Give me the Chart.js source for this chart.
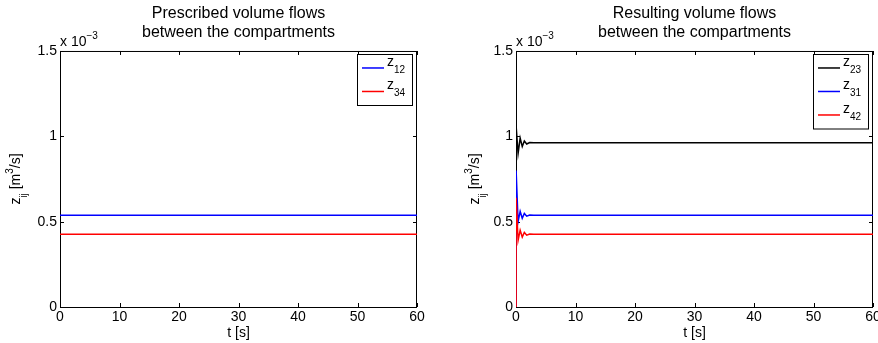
<!DOCTYPE html>
<html>
<head>
<meta charset="utf-8">
<script src="https://cdn.jsdelivr.net/npm/chart.js@4.4.0/dist/chart.umd.min.js"></script>
<style>
  html, body { margin: 0; padding: 0; background: #fff; overflow: hidden; width: 878px; height: 343px; }
  .panel { position: absolute; top: 0; }
</style>
</head>
<body>
<div class="panel" style="left:0"><canvas id="prescribed" width="439" height="343"></canvas></div>
<div class="panel" style="left:439px"><canvas id="resulting" width="450" height="343"></canvas></div>
<script>
// values are in units of 1e-3 m^3/s (the axis shows "x 10^-3")
const tPrescribed = [0, 60];
const z12 = [0.537, 0.537];
const z34 = [0.426, 0.426];

const tResult = [0, 0.02, 0.35, 0.7, 1.05, 1.4, 1.8, 2.3, 3, 60];
const z23 = [0, 1.06, 0.90, 0.99, 0.94, 0.972, 0.955, 0.964, 0.963, 0.963];
const z31 = [0, 0.80, 0.50, 0.56, 0.52, 0.548, 0.532, 0.539, 0.537, 0.537];
const z42 = [0, 0.64, 0.39, 0.45, 0.41, 0.437, 0.421, 0.428, 0.426, 0.426];

const xTicks = [0, 10, 20, 30, 40, 50, 60];
const yTicks = [0, 0.5, 1, 1.5];

const FONT = '"Liberation Sans", Arial, Helvetica, sans-serif';
const TICK = 4;
const SMALL = 10;

Chart.defaults.color = '#000';
Chart.defaults.font.family = FONT;

// draws text with sub / superscripts, parts = [[text, 'sub'|'sup'|''], ...]
function drawRich(ctx, parts, x, y, size) {
  let cx = x;
  parts.forEach(([s, k]) => {
    ctx.font = (k ? SMALL : size) + 'px ' + FONT;
    let dy = 0;
    if (k === 'sub') dy = 7;
    if (k === 'sup') dy = -7;
    ctx.fillText(s, cx, y + dy);
    cx += ctx.measureText(s).width;
  });
  return cx - x;
}
function richWidth(ctx, parts, size) {
  let w = 0;
  parts.forEach(([s, k]) => {
    ctx.font = (k ? SMALL : size) + 'px ' + FONT;
    w += ctx.measureText(s).width;
  });
  return w;
}

const matlabAxes = {
  id: 'matlabAxes',
  beforeDatasetsDraw(chart) {
    const {ctx, chartArea: a, scales: {x, y}} = chart;
    ctx.save();
    ctx.strokeStyle = '#000';
    ctx.lineWidth = 1;
    ctx.strokeRect(a.left + 0.5, a.top + 0.5, a.right - a.left - 1, a.bottom - a.top);
    ctx.beginPath();
    x.ticks.forEach(t => {
      const px = Math.round(x.getPixelForValue(t.value)) + 0.5;
      ctx.moveTo(px, a.bottom); ctx.lineTo(px, a.bottom - TICK);
      ctx.moveTo(px, a.top); ctx.lineTo(px, a.top + TICK);
    });
    y.ticks.forEach(t => {
      const py = Math.round(y.getPixelForValue(t.value)) + 0.5;
      ctx.moveTo(a.left, py); ctx.lineTo(a.left + TICK, py);
      ctx.moveTo(a.right, py); ctx.lineTo(a.right - TICK, py);
    });
    ctx.stroke();
    ctx.restore();
  },
  afterDraw(chart, args, opts) {
    const {ctx, chartArea: a} = chart;
    ctx.save();
    ctx.fillStyle = '#000';
    ctx.textBaseline = 'alphabetic';
    ctx.textAlign = 'left';

    // exponent
    drawRich(ctx, [['x 10', ''], ['\u22123', 'sup']], a.left, a.top - 5, 14);

    // y axis title, rotated
    const yParts = [['z', ''], ['ij', 'sub'], [' [m', ''], ['3', 'sup'], ['/s]', '']];
    const w = richWidth(ctx, yParts, 14);
    ctx.save();
    ctx.translate(a.left - opts.yTitleOffset, (a.top + a.bottom) / 2);
    ctx.rotate(-Math.PI / 2);
    drawRich(ctx, yParts, -w / 2, 0, 14);
    ctx.restore();

    // legend box
    const sets = chart.data.datasets;
    const bw = 55, rowH = 23.5;
    const bh = sets.length * rowH + 4;
    const bx = a.right - 5 - bw, by = a.top + 3;
    ctx.fillStyle = '#fff';
    ctx.fillRect(bx, by, bw, bh);
    ctx.strokeStyle = '#000';
    ctx.lineWidth = 1;
    ctx.strokeRect(Math.round(bx) + 0.5, Math.round(by) + 0.5, bw, bh);
    sets.forEach((ds, i) => {
      const ry = by + 14 + i * rowH;
      ctx.strokeStyle = ds.borderColor;
      ctx.lineWidth = 1.5;
      ctx.beginPath();
      ctx.moveTo(bx + 5, ry); ctx.lineTo(bx + 27, ry);
      ctx.stroke();
      ctx.fillStyle = '#000';
      drawRich(ctx, [['z', ''], [ds.sub, 'sub']], bx + 30, ry - 2, 14);
    });
    ctx.restore();
  }
};

function makeChart(id, title, t, series, yWidth, padRight, yTitleOffset) {
  return new Chart(document.getElementById(id), {
    type: 'line',
    data: {
      datasets: series.map(s => ({
        label: 'z' + s.sub,
        sub: s.sub,
        data: t.map((tv, i) => ({x: tv, y: s.values[i]})),
        borderColor: s.color,
        borderWidth: 1.5,
        pointRadius: 0,
        tension: 0,
        order: s.order
      }))
    },
    options: {
      responsive: false,
      animation: false,
      events: [],
      layout: {padding: {left: 0, right: padRight, top: 0, bottom: 0}},
      scales: {
        x: {
          type: 'linear',
          min: 0, max: 60,
          afterBuildTicks: sc => { sc.ticks = xTicks.map(v => ({value: v})); },
          afterFit: sc => { sc.height = 36; },
          grid: {display: false, drawTicks: false},
          border: {display: false},
          ticks: {font: {size: 14}, padding: 2, maxRotation: 0, callback: v => String(v)},
          title: {display: true, text: 't [s]', font: {size: 14}, padding: {top: 0, bottom: 1.6}}
        },
        y: {
          type: 'linear',
          min: 0, max: 1.5,
          afterBuildTicks: sc => { sc.ticks = yTicks.map(v => ({value: v})); },
          afterFit: sc => { sc.width = yWidth; },
          grid: {display: false, drawTicks: false},
          border: {display: false},
          ticks: {font: {size: 14}, padding: 3, callback: v => String(v)}
        }
      },
      plugins: {
        legend: {display: false},
        tooltip: {enabled: false},
        title: {
          display: true,
          text: title,
          fullSize: false,
          font: {size: 16, weight: 'normal', lineHeight: 1.19},
          padding: {top: 4.5, bottom: 8.4}
        },
        matlabAxes: {yTitleOffset: yTitleOffset}
      }
    },
    plugins: [matlabAxes]
  });
}

makeChart('prescribed', ['Prescribed volume flows', 'between the compartments'], tPrescribed, [
  {sub: '12', values: z12, color: '#0000ff', order: 1},
  {sub: '34', values: z34, color: '#ff0000', order: 0}
], 60, 22, 40);

makeChart('resulting', ['Resulting volume flows', 'between the compartments'], tResult, [
  {sub: '23', values: z23, color: '#000000', order: 2},
  {sub: '31', values: z31, color: '#0000ff', order: 1},
  {sub: '42', values: z42, color: '#ff0000', order: 0}
], 77, 16, 37);
</script>
</body>
</html>
